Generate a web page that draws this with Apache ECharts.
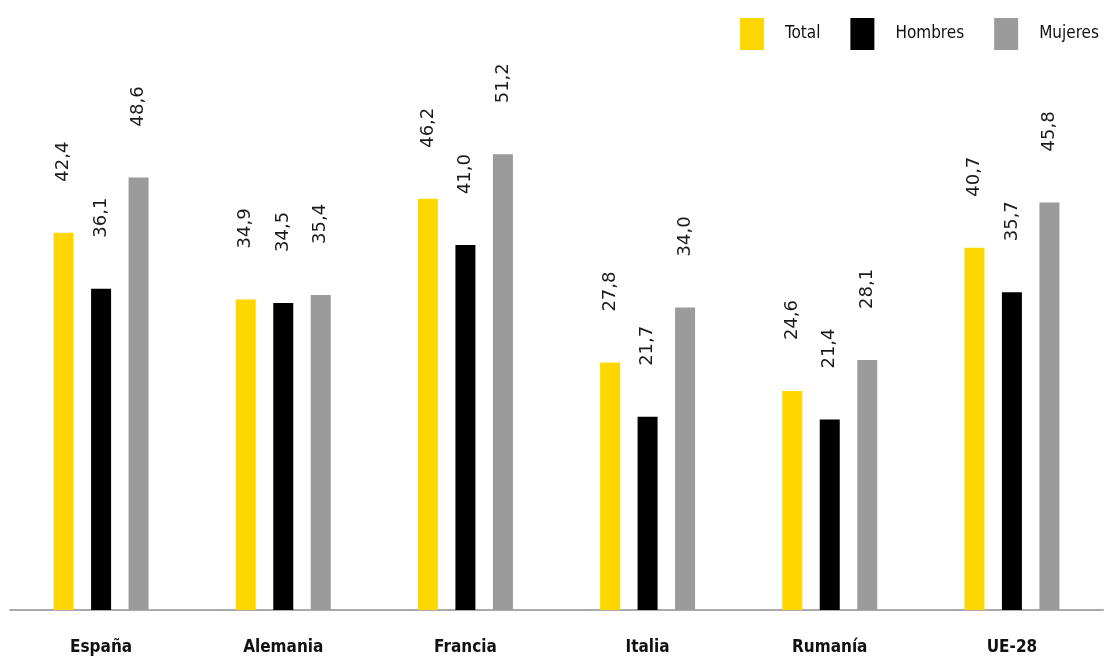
<!DOCTYPE html>
<html><head><meta charset="utf-8">
<script src="https://cdn.jsdelivr.net/npm/echarts@6/dist/echarts.min.js"></script>
<style>html,body{margin:0;padding:0;background:#fff}#c{width:1107px;height:659px}</style>
</head><body><div id="c"></div>
<script>
const categories = ['España','Alemania','Francia','Italia','Rumanía','UE-28'];
const seriesNames = ['Total','Hombres','Mujeres'];
const total = [42.4, 34.9, 46.2, 27.8, 24.6, 40.7];
const hombres = [36.1, 34.5, 41.0, 21.7, 21.4, 35.7];
const mujeres = [48.6, 35.4, 51.2, 34.0, 28.1, 45.8];
const colors = ['#FFD700','#000000','#9B9B9B'];
const condensed = '"DejaVu Sans Condensed", "Roboto", sans-serif';

const fmt = v => v.value.toFixed(1).replace('.', ',');
const mk = (name, data, color) => ({
  name, type: 'bar', data, barWidth: 20, barGap: '87.5%',
  itemStyle: {color},
  label: {show: true, position: 'top', rotate: 90, align: 'left', verticalAlign: 'middle',
          distance: 51, formatter: fmt, color: '#1a1a1a', fontSize: 18,
          fontFamily: '"DejaVu Sans", sans-serif'}
});
const chart = echarts.init(document.getElementById('c'));
chart.setOption({
  animation: false,
  legend: {right: 3, top: 13, itemWidth: 24, itemHeight: 32, itemGap: 30,
    icon: 'rect', data: seriesNames,
    textStyle: {fontSize: 17, color: '#111', fontFamily: condensed, padding:[0,0,0,16]}},
  grid: {left: 10, right: 4, top: 76, bottom: 49},
  xAxis: {type: 'category', data: categories,
    axisLine: {lineStyle: {color: '#aaaaaa', width: 2}}, axisTick: {show: false},
    axisLabel: {margin: 29, fontSize: 17, fontWeight: 'bold', color: '#111',
                fontFamily: condensed}},
  yAxis: {type: 'value', min: 0, max: 60, show: false, splitLine: {show: false}},
  series: [mk(seriesNames[0], total, colors[0]), mk(seriesNames[1], hombres, colors[1]), mk(seriesNames[2], mujeres, colors[2])]
});
</script></body></html>
